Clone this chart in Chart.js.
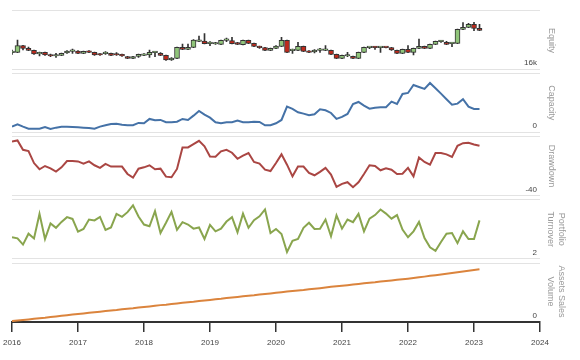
<!DOCTYPE html>
<html>
<head>
<meta charset="utf-8">
<script src="https://cdn.jsdelivr.net/npm/chart.js@4.4.1/dist/chart.umd.min.js"></script>
<style>
  html, body { margin: 0; padding: 0; background: #fff; }
</style>
</head>
<body>
<canvas id="chart" width="580" height="360"></canvas>
<script>
// monthly observations, Jan 2016 .. Feb 2023
var firstYear = 2016;
var monthCount = 86;
var yearTicks = [2016, 2017, 2018, 2019, 2020, 2021, 2022, 2023, 2024];

// equity candles
var eqOpen = [17960, 18000, 18800, 18480, 18240, 17800, 18000, 17680, 17560, 17640, 17920, 18120,
  18160, 17880, 18120, 18000, 17800, 17840, 17880, 17800, 17760, 17480, 17280, 17520,
  17640, 17680, 17960, 17880, 17640, 17080, 17280, 18600, 18360, 18600, 19320, 19360,
  19040, 19000, 18960, 19440, 19400, 19160, 18920, 19440, 19080, 18720, 18560, 18240,
  18480, 18720, 19440, 18200, 18240, 18720, 18160, 18040, 18240, 18240, 18240, 17760,
  17280, 17560, 17520, 17280, 18000, 18560, 18600, 18560, 18600, 18560, 18240, 17880,
  18360, 18000, 18480, 18720, 18480, 18960, 19280, 19200, 19040, 19080, 20760, 21000,
  21360, 20880];
var eqHigh = [18280, 19480, 18840, 18640, 18280, 18040, 18040, 17800, 17880, 17920, 18200, 18400,
  18200, 18160, 18200, 18040, 17840, 18080, 17920, 17960, 17800, 17520, 17520, 17800,
  17840, 18280, 18080, 17960, 17680, 17360, 18640, 19000, 19000, 19520, 19960, 20240,
  19280, 19200, 19480, 19720, 19800, 19200, 19480, 19480, 19120, 18760, 18600, 18520,
  18800, 19800, 19480, 18400, 19200, 18760, 18200, 18320, 18480, 18800, 18280, 17800,
  17680, 18000, 17560, 18040, 18640, 18640, 18680, 18640, 18640, 18600, 18280, 18400,
  18800, 18520, 19600, 18760, 19000, 19360, 19440, 19320, 19160, 20800, 21560, 21480,
  21600, 21360];
var eqLow = [17760, 17960, 18280, 18200, 17760, 17560, 17640, 17480, 17400, 17600, 17880, 17880,
  17840, 17840, 17960, 17640, 17640, 17760, 17600, 17640, 17520, 17240, 17240, 17400,
  17600, 17400, 17480, 17600, 17040, 17040, 17240, 18320, 18320, 18560, 19280, 19000,
  18800, 18960, 18920, 19280, 19000, 18920, 18880, 19040, 18680, 18480, 18200, 18200,
  18440, 18680, 17960, 17880, 18200, 18080, 17960, 17920, 18000, 18200, 17720, 17240,
  17240, 17480, 17240, 17240, 17960, 18440, 18360, 18000, 18520, 18240, 17840, 17840,
  17960, 17680, 18440, 18440, 18440, 18920, 19200, 18920, 18680, 19040, 20720, 20960,
  20600, 20600];
var eqClose = [18040, 18800, 18480, 18240, 17800, 18000, 17680, 17560, 17640, 17880, 18160, 18200,
  17880, 18120, 18000, 17680, 17680, 17920, 17640, 17680, 17560, 17280, 17480, 17760,
  17800, 18000, 18040, 17640, 17080, 17320, 18600, 18360, 18600, 19480, 19480, 19040,
  19120, 19080, 19440, 19520, 19040, 18960, 19440, 19080, 18720, 18560, 18240, 18480,
  18760, 19440, 18000, 18280, 18720, 18120, 18000, 18280, 18320, 18280, 17760, 17280,
  17640, 17640, 17280, 18000, 18600, 18600, 18560, 18600, 18560, 18280, 17880, 18360,
  18000, 18480, 18720, 18480, 18960, 19320, 19360, 18960, 19120, 20760, 21000, 21360,
  20880, 20640];

var capacity = [5.6, 8.0, 5.6, 3.6, 3.6, 3.6, 5.3, 3.3, 4.6, 5.6, 5.6, 5.3,
  5.0, 4.6, 4.3, 3.6, 5.6, 7.0, 8.3, 8.6, 7.6, 7.0, 7.0, 9.3,
  9.0, 13.3, 12.0, 12.3, 10.0, 10.0, 10.6, 13.3, 12.3, 16.6, 21.3, 17.6,
  14.6, 10.0, 9.0, 10.0, 10.0, 11.6, 10.0, 10.0, 10.6, 10.3, 7.0, 7.0,
  9.0, 12.3, 25.6, 23.3, 20.0, 18.6, 17.0, 18.0, 23.0, 22.0, 19.3, 13.3,
  15.3, 18.3, 28.3, 30.3, 26.6, 23.6, 24.6, 25.0, 25.0, 30.6, 28.3, 38.3,
  39.3, 47.3, 45.3, 43.3, 49.3, 44.0, 38.6, 33.0, 27.6, 28.6, 33.0, 25.6,
  23.3, 23.3];

var drawdown = [-3.4, -2.7, -9.0, -9.9, -18.0, -22.2, -20.0, -21.6, -23.8, -20.9, -16.6, -16.6,
  -16.9, -18.4, -16.9, -19.5, -21.3, -18.6, -20.4, -20.4, -20.4, -25.4, -27.9, -21.8,
  -20.9, -19.5, -22.2, -21.8, -27.2, -27.6, -22.0, -7.4, -7.4, -5.2, -2.9, -6.7,
  -13.5, -13.7, -10.1, -9.0, -11.0, -15.1, -13.0, -11.2, -17.3, -18.4, -22.5, -23.4,
  -18.0, -12.1, -19.1, -27.0, -20.4, -20.4, -24.7, -26.3, -24.0, -21.3, -25.8, -34.2,
  -32.1, -31.0, -34.4, -31.0, -25.4, -19.5, -20.0, -22.9, -21.6, -22.5, -25.4, -25.2,
  -21.3, -27.0, -14.2, -17.3, -19.1, -11.2, -11.2, -12.1, -13.9, -6.3, -4.5, -4.3,
  -5.4, -6.3];

var turnover = [2.73, 2.69, 2.48, 2.85, 2.69, 3.52, 2.67, 3.20, 3.05, 3.25, 3.41, 3.35,
  2.92, 3.01, 3.33, 3.30, 3.42, 2.98, 3.06, 3.52, 3.42, 3.58, 3.81, 3.43,
  3.16, 3.10, 3.61, 2.87, 3.22, 3.59, 2.98, 3.24, 3.16, 3.02, 3.06, 2.67,
  3.15, 2.93, 3.02, 3.26, 3.41, 2.90, 3.53, 3.05, 3.31, 3.44, 3.67, 2.87,
  3.01, 2.84, 2.23, 2.61, 2.67, 3.05, 3.22, 3.01, 3.02, 3.33, 2.76, 3.47,
  3.02, 3.33, 3.24, 3.52, 2.93, 3.36, 3.48, 3.67, 3.53, 3.36, 3.48, 2.99,
  2.73, 2.93, 3.25, 2.70, 2.39, 2.27, 2.57, 2.85, 2.87, 2.53, 2.93, 2.67,
  2.67, 3.30];

var assets = [1.5, 2.4, 3.5, 4.4, 5.4, 6.5, 7.3, 8.4, 9.5, 10.4, 11.5, 12.6,
  13.5, 14.5, 15.6, 16.5, 17.4, 18.5, 19.6, 20.4, 21.5, 22.6, 23.4, 24.5,
  25.5, 26.4, 27.5, 28.6, 29.4, 30.5, 31.4, 32.5, 33.6, 34.4, 35.5, 36.5,
  37.4, 38.5, 39.4, 40.6, 41.5, 42.4, 43.5, 44.6, 45.4, 46.5, 47.4, 48.5,
  49.4, 50.4, 51.5, 52.4, 53.5, 54.4, 55.6, 56.5, 57.4, 58.5, 59.6, 60.4,
  61.3, 62.4, 63.5, 64.4, 65.5, 66.6, 67.4, 68.5, 69.6, 70.5, 71.6, 72.5,
  73.5, 74.6, 75.8, 76.9, 78.2, 79.4, 80.5, 81.8, 83.0, 84.3, 85.5, 86.8,
  88.0, 89.3];

// month positions on the year axis
var months = [];
for (var m = 0; m < monthCount; m++) months.push(firstYear + m / 12);

function series(values) {
  return values.map(function (v, i) { return { x: months[i], y: v }; });
}

var font = "'Liberation Sans', Arial, sans-serif";
var PANEL = 59, GAP = 2.125;

var panels = [
  { id: 'yEq', title: 'Equity', lo: 16000, hi: 23080, label: '16k', gapTop: false, gapBottom: true, padTop: 22.4, padBottom: 0 },
  { id: 'yCap', title: 'Capacity', lo: 0, hi: 59, label: '0', gapTop: true, gapBottom: true, padTop: 22.4, padBottom: 0 },
  { id: 'yDd', title: 'Drawdown', lo: -40, hi: 0, label: '-40', gapTop: true, gapBottom: true, padTop: 22.4, padBottom: 0 },
  { id: 'yTo', title: ['Portfolio', 'Turnover'], lo: 2, hi: 4, label: '2', gapTop: true, gapBottom: true, padTop: 12.4, padBottom: 11.1 },
  { id: 'yAs', title: ['Assets Sales', 'Volume'], lo: 0, hi: 100, label: '0', gapTop: true, gapBottom: false, padTop: 12.4, padBottom: 11.1 }
];

function makeAxis(p) {
  var unit = (p.hi - p.lo) / PANEL;
  return {
    type: 'linear',
    position: 'right',
    stack: 'panels',
    stackWeight: PANEL + (p.gapTop ? GAP : 0) + (p.gapBottom ? GAP : 0),
    min: p.lo - (p.gapBottom ? GAP * unit : 0),
    max: p.hi + (p.gapTop ? GAP * unit : 0),
    afterBuildTicks: function (axis) {
      axis.ticks = [{ value: p.lo }, { value: p.hi }];
    },
    grid: { color: '#e3e3e3', lineWidth: 1, drawTicks: false },
    border: { display: false },
    ticks: {
      mirror: true,
      padding: -3,
      labelOffset: -6,
      color: '#444',
      font: { family: font, size: 8 },
      callback: function (v) { return v === p.lo ? p.label : ''; }
    },
    title: {
      display: true,
      text: p.title,
      color: '#999',
      font: { family: font, size: 9, lineHeight: 1.25 },
      padding: { top: p.padTop, bottom: p.padBottom }
    }
  };
}

var scales = {
  x: {
    type: 'linear',
    min: 2016,
    max: 2024,
    offset: false,
    afterBuildTicks: function (axis) {
      axis.ticks = yearTicks.map(function (y) { return { value: y }; });
    },
    grid: { drawOnChartArea: false, drawTicks: true, tickLength: 10, color: '#333', lineWidth: 1.5, offset: false },
    border: { display: true, color: '#333', width: 2 },
    ticks: {
      padding: 3,
      color: '#444',
      font: { family: font, size: 8, lineHeight: 1.9 },
      maxRotation: 0,
      autoSkip: false,
      callback: function (v) { return String(v); }
    }
  }
};
panels.forEach(function (p) { scales[p.id] = makeAxis(p); });

var bodies = eqOpen.map(function (o, i) { return { x: months[i], y: [o, eqClose[i]] }; });
var wicks = eqLow.map(function (l, i) { return { x: months[i], y: [l, eqHigh[i]] }; });
var bodyColors = eqOpen.map(function (o, i) { return eqClose[i] >= o ? '#90c57a' : '#bf2a1c'; });

new Chart(document.getElementById('chart'), {
  type: 'line',
  data: {
    datasets: [
      {
        type: 'bar', label: 'Equity', data: bodies, yAxisID: 'yEq', order: 0,
        backgroundColor: bodyColors, borderColor: '#333', borderWidth: 1,
        borderSkipped: false, barThickness: 5, minBarLength: 1.5, grouped: false
      },
      {
        type: 'bar', label: 'Equity range', data: wicks, yAxisID: 'yEq', order: 1,
        backgroundColor: '#333', borderWidth: 0, barThickness: 1, grouped: false
      },
      {
        label: 'Capacity', data: series(capacity), yAxisID: 'yCap',
        borderColor: '#4572a7', borderWidth: 2, pointRadius: 0, tension: 0
      },
      {
        label: 'Drawdown', data: series(drawdown), yAxisID: 'yDd',
        borderColor: '#aa4643', borderWidth: 2, pointRadius: 0, tension: 0
      },
      {
        label: 'Portfolio Turnover', data: series(turnover), yAxisID: 'yTo',
        borderColor: '#89a54e', borderWidth: 2, pointRadius: 0, tension: 0
      },
      {
        label: 'Assets Sales Volume', data: series(assets), yAxisID: 'yAs',
        borderColor: '#db843d', borderWidth: 2, pointRadius: 0, tension: 0
      }
    ]
  },
  options: {
    responsive: false,
    animation: false,
    devicePixelRatio: 1,
    layout: { padding: { top: 10, left: 12, right: 0, bottom: 6.8 } },
    plugins: { legend: { display: false }, tooltip: { enabled: false } },
    scales: scales
  }
});
</script>
</body>
</html>
